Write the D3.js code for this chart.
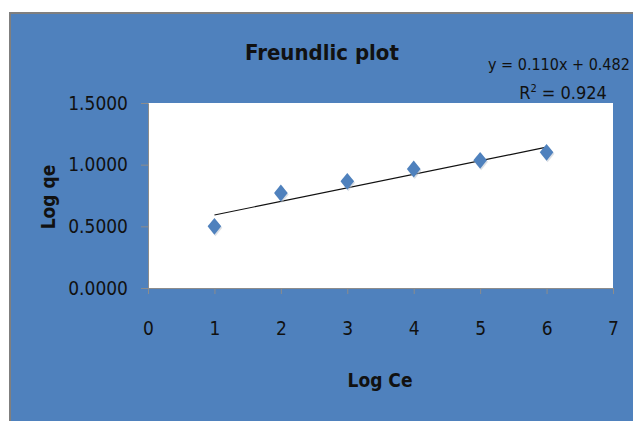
<!DOCTYPE html>
<html>
<head>
  <meta charset="utf-8">
  <style>
    body { margin: 0; background: #fff; }
    svg { display: block; }
    text { font-family: "Liberation Sans Narrow", "DejaVu Sans Condensed", sans-serif; fill: #111; }
  </style>
</head>
<body>
  <svg width="633" height="421"></svg>
  <script src="https://d3js.org/d3.v7.min.js"></script>
  <script>
    // data
    var logCe = [1, 2, 3, 4, 5, 6];
    var logQe = [0.50, 0.77, 0.865, 0.965, 1.035, 1.10];
    var xTicks = [0, 1, 2, 3, 4, 5, 6, 7];
    var yTicks = [0, 0.5, 1.0, 1.5];
    var slope = 0.110, intercept = 0.482, r2 = 0.924;

    var svg = d3.select("svg");

    // chart background
    svg.append("rect")
      .attr("x", 10).attr("y", 13)
      .attr("width", 660).attr("height", 430)
      .attr("fill", "#4f81bd")
      .attr("stroke", "#7f7f7f")
      .attr("stroke-width", 2);

    var plotL = 148, plotR = 613, plotT = 103, plotB = 288;

    var x = d3.scaleLinear().domain([0, 7]).range([plotL, plotR]);
    var y = d3.scaleLinear().domain([0, 1.5]).range([plotB, plotT]);

    svg.append("rect")
      .attr("x", plotL).attr("y", plotT)
      .attr("width", plotR - plotL).attr("height", plotB - plotT)
      .attr("fill", "#fff");

    // axes
    var yAxis = svg.append("g")
      .attr("transform", "translate(" + plotL + ",0)")
      .call(d3.axisLeft(y).tickValues(yTicks).tickSize(7).tickPadding(13).tickFormat(d3.format(".4f")));
    var xAxis = svg.append("g")
      .attr("transform", "translate(0," + plotB + ")")
      .call(d3.axisBottom(x).tickValues(xTicks).tickSize(6).tickPadding(28).tickFormat(d3.format("d")));

    [yAxis, xAxis].forEach(function (a) {
      a.select(".domain").attr("stroke", "#8c8c8c");
      a.selectAll(".tick line").attr("stroke", "#8c8c8c");
      a.selectAll("text").attr("font-size", 19).attr("fill", "#111");
    });

    // trend line
    svg.append("line")
      .attr("x1", x(logCe[0]))
      .attr("y1", y(slope * logCe[0] + intercept))
      .attr("x2", x(logCe[logCe.length - 1]))
      .attr("y2", y(slope * logCe[logCe.length - 1] + intercept))
      .attr("stroke", "#111")
      .attr("stroke-width", 1.2);

    // markers
    var diamond = d3.symbol().type(d3.symbolDiamond).size(82);
    var pts = svg.append("g")
      .selectAll("g")
      .data(logCe.map(function (v, i) { return [v, logQe[i]]; }))
      .enter().append("g")
      .attr("transform", function (d) { return "translate(" + x(d[0]) + "," + y(d[1]) + ")"; });

    pts.append("path")
      .attr("d", diamond)
      .attr("transform", "translate(1,1.5) scale(1.4,1)")
      .attr("fill", "#b7c0cc")
      .attr("opacity", 0.5);
    pts.append("path")
      .attr("d", diamond)
      .attr("transform", "scale(1.4,1)")
      .attr("fill", "#4f81bd");

    // titles
    svg.append("text")
      .attr("x", 322).attr("y", 60)
      .attr("text-anchor", "middle")
      .attr("font-size", 22)
      .attr("font-weight", "bold")
      .text("Freundlic plot");

    svg.append("text")
      .attr("x", 380).attr("y", 387)
      .attr("text-anchor", "middle")
      .attr("font-size", 19)
      .attr("font-weight", "bold")
      .text("Log Ce");

    svg.append("text")
      .attr("transform", "translate(55,197) rotate(-90)")
      .attr("text-anchor", "middle")
      .attr("font-size", 19)
      .attr("font-weight", "bold")
      .text("Log qe");

    // equation
    svg.append("text")
      .attr("x", 488).attr("y", 70)
      .attr("font-size", 16)
      .text("y = " + slope.toFixed(3) + "x + " + intercept.toFixed(3));

    var r = svg.append("text")
      .attr("x", 563).attr("y", 99)
      .attr("text-anchor", "middle")
      .attr("font-size", 18);
    r.append("tspan").text("R");
    r.append("tspan").attr("font-size", 11).attr("dy", -7).text("2");
    r.append("tspan").attr("dy", 7).text(" = " + r2.toFixed(3));
  </script>
</body>
</html>
